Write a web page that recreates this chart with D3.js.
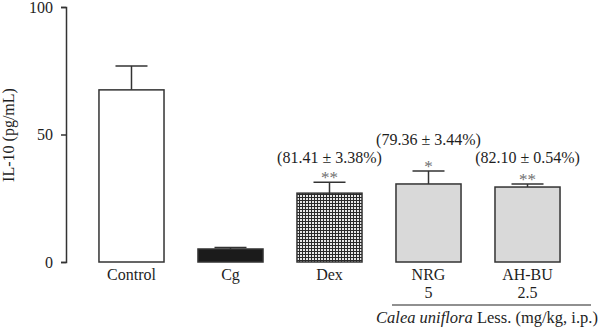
<!DOCTYPE html>
<html>
<head>
<meta charset="utf-8">
<script src="https://cdn.jsdelivr.net/npm/d3@7"></script>
<style>
  html, body { margin: 0; padding: 0; background: #fff; }
  svg { display: block; }
  text { font-family: "Liberation Serif", "DejaVu Serif", serif; fill: #1e1e1e; }
</style>
</head>
<body>
<svg id="chart" width="600" height="329"></svg>
<script>
// IL-10 levels per treatment group (mean ± SEM)
const groups = ["Control", "Cg", "Dex", "NRG", "AH-BU"];
const doses = ["", "", "", "5", "2.5"];
const means = [67.5, 5.1, 27.0, 30.6, 29.4];
const sems = [9.4, 0.6, 4.3, 5.1, 1.2];
const stars = ["", "", "**", "*", "**"];
const inhibition = ["", "", "(81.41 ± 3.38%)", "(79.36 ± 3.44%)", "(82.10 ± 0.54%)"];
const yTicks = [0, 50, 100];

const fills = ["#ffffff", "#1b1b1b", "url(#checker)", "#d9d9d9", "#d9d9d9"];
const fontSize = 16;

const svg = d3.select("#chart");
const defs = svg.append("defs");
const pat = defs.append("pattern")
  .attr("id", "checker").attr("patternUnits", "userSpaceOnUse")
  .attr("width", 3).attr("height", 3);
pat.append("rect").attr("width", 3).attr("height", 3).attr("fill", "#2a2a2a");
pat.append("rect").attr("width", 2).attr("height", 2).attr("fill", "#e8e8e8");

const axisX = 66;
const y = d3.scaleLinear().domain([0, 100]).range([262, 7]);
const x = d3.scaleBand().domain(groups)
  .range([axisX, 593]).paddingInner(0.343).paddingOuter(0.333);

// y axis
const yAxis = d3.axisLeft(y).tickValues(yTicks).tickSize(5).tickPadding(8);
const gy = svg.append("g").attr("transform", `translate(${axisX},0)`).call(yAxis);
gy.select(".domain").attr("stroke", "#333").attr("stroke-width", 1.5);
gy.selectAll(".tick line").attr("stroke", "#333").attr("stroke-width", 1.5);
gy.selectAll(".tick text")
  .attr("font-size", fontSize).attr("fill", "#1e1e1e")
  .style("font-family", '"Liberation Serif", serif');

svg.append("text")
  .attr("transform", `translate(14,135) rotate(-90)`)
  .attr("text-anchor", "middle").attr("font-size", fontSize)
  .text("IL-10 (pg/mL)");

const data = groups.map((g, i) => ({
  g, mean: means[i], sem: sems[i], fill: fills[i],
  star: stars[i], label: inhibition[i], dose: doses[i]
}));

const capHalf = 16;
// error bars (drawn first so the bar top covers the stem)
const eb = svg.append("g").attr("stroke", "#333").attr("stroke-width", 1.5);
data.forEach(d => {
  const cx = x(d.g) + x.bandwidth() / 2;
  const top = y(d.mean + d.sem);
  eb.append("line").attr("x1", cx).attr("x2", cx)
    .attr("y1", y(d.mean)).attr("y2", top);
  eb.append("line").attr("x1", cx - capHalf).attr("x2", cx + capHalf)
    .attr("y1", top).attr("y2", top);
});

// bars
svg.append("g").selectAll("rect").data(data).join("rect")
  .attr("x", d => x(d.g))
  .attr("y", d => y(d.mean))
  .attr("width", x.bandwidth())
  .attr("height", d => y(0) - y(d.mean))
  .attr("fill", d => d.fill)
  .attr("stroke", "#333").attr("stroke-width", 1.5);

// significance marks and inhibition percentages
const labelRise = { "Dex": 19, "NRG": 26, "AH-BU": 21 };
data.filter(d => d.star).forEach(d => {
  const cx = x(d.g) + x.bandwidth() / 2;
  const top = y(d.mean + d.sem);
  svg.append("text").attr("x", cx).attr("y", top + 1)
    .attr("text-anchor", "middle").attr("font-size", 17)
    .style("fill", "#707070")
    .text(d.star);
  svg.append("text").attr("x", cx).attr("y", top - labelRise[d.g])
    .attr("text-anchor", "middle").attr("font-size", fontSize)
    .text(d.label);
});

// category labels and doses
data.forEach(d => {
  const cx = x(d.g) + x.bandwidth() / 2;
  svg.append("text").attr("x", cx).attr("y", 280)
    .attr("text-anchor", "middle").attr("font-size", fontSize).text(d.g);
  if (d.dose) {
    svg.append("text").attr("x", cx).attr("y", 298)
      .attr("text-anchor", "middle").attr("font-size", fontSize).text(d.dose);
  }
});

// bracket for the plant extract groups
svg.append("line").attr("x1", 392).attr("x2", 591)
  .attr("y1", 305).attr("y2", 305)
  .attr("stroke", "#222").attr("stroke-width", 1.2);
const cap = svg.append("text").attr("x", 487).attr("y", 323)
  .attr("text-anchor", "middle").attr("font-size", 16.5);
cap.append("tspan").attr("font-style", "italic").text("Calea uniflora");
cap.append("tspan").text(" Less. (mg/kg, i.p.)");
</script>
</body>
</html>
